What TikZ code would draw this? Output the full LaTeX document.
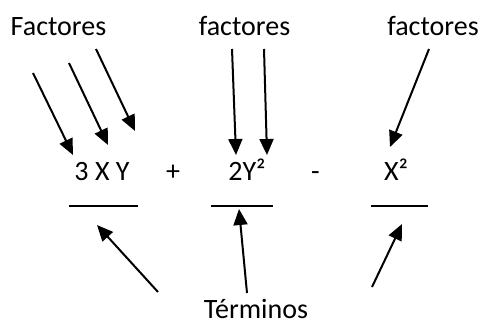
\documentclass[tikz,border=0pt]{standalone}
\usepackage{fontspec}
\setmainfont{Carlito}
\usepackage{tikz}
\usetikzlibrary{
  arrows.meta,
  positioning
}
\tikzset{
  word/.style={font=\fontsize{28}{34}\selectfont,inner sep=0pt,anchor=base},
  bar/.style={line width=1.8pt},
  ptr/.style={-{Triangle[length=16pt,width=14pt]},line width=2pt}
}

\begin{document}
\begin{tikzpicture}[x=1pt,y=-1pt]
  \useasboundingbox (0,0) rectangle (486,325);
  % labels
  \node[word] (fl) at (58.5,35) {Factores};
  \node[word] (fm) at (244.5,35) {factores};
  \node[word] (fr) at (433,35) {factores};
  \node[word] (tm) at (256,318) {Términos};
  % expression
  \node[word] (t1) at (102,180) {3 X Y};
  \node[word] (pl) at (173,180) {+};
  \node[word] (t2) at (247,180) {2Y²};
  \node[word] (mi) at (315.5,180) {-};
  \node[word] (t3) at (396,180) {X²};
  \coordinate (b1w) at (69,206);  \coordinate (b1e) at (138,206);
  \coordinate (b2w) at (211,206); \coordinate (b2e) at (273,206);
  \coordinate (b3w) at (371,206); \coordinate (b3e) at (428,206);
  \draw[bar] (b1w)--(b1e);
  \draw[bar] (b2w)--(b2e);
  \draw[bar] (b3w)--(b3e);
  % arrow ends
  \coordinate (p1) at (33,73);   \coordinate (q1) at (73,155);
  \coordinate (p2) at (69,63);   \coordinate (q2) at (108,145);
  \coordinate (p3) at (96,49);   \coordinate (q3) at (135,131);
  \coordinate (p4) at (232,49);  \coordinate (q4) at (236,155);
  \coordinate (p5) at (264,49);  \coordinate (q5) at (267,155);
  \coordinate (p6) at (429,49);  \coordinate (q6) at (390,147);
  \coordinate (r1) at (158,292); \coordinate (s1) at (97,225);
  \coordinate (r2) at (247,293); \coordinate (s2) at (239,209);
  \coordinate (r3) at (372,287); \coordinate (s3) at (402,224);
  \draw[ptr] (p1)--(q1);
  \draw[ptr] (p2)--(q2);
  \draw[ptr] (p3)--(q3);
  \draw[ptr] (p4)--(q4);
  \draw[ptr] (p5)--(q5);
  \draw[ptr] (p6)--(q6);
  \draw[ptr] (r1)--(s1);
  \draw[ptr] (r2)--(s2);
  \draw[ptr] (r3)--(s3);
\end{tikzpicture}
\end{document}
